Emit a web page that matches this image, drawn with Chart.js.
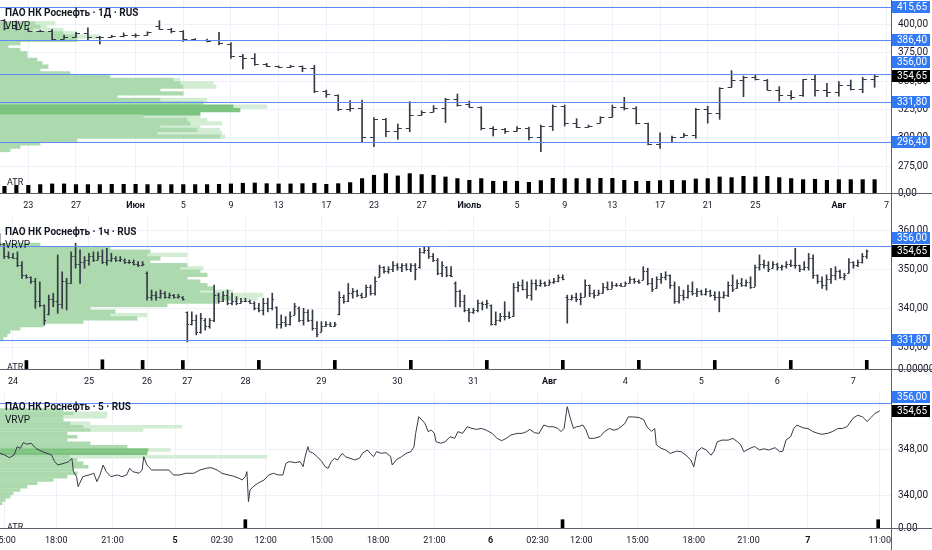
<!DOCTYPE html>
<html lang="ru">
<head>
<meta charset="utf-8">
<title>ПАО НК Роснефть</title>
<script src="https://cdn.jsdelivr.net/npm/chart.js@4.4.1/dist/chart.umd.min.js"></script>
<style>
  html, body { margin: 0; padding: 0; background: #fff; overflow: hidden; }
  .pane { position: absolute; left: 0; width: 932px; }
</style>
</head>
<body>
<div class="pane" style="top:0;height:215px"><canvas id="daily"></canvas></div>
<div class="pane" style="top:215px;height:176px"><canvas id="hourly"></canvas></div>
<div class="pane" style="top:391px;height:159px"><canvas id="fivemin"></canvas></div>
<script>
const lastPrice = 354.65;

// ---- 1Д (daily) ----
const dayTicks = [2, 6, 11, 15, 19, 23, 27, 31, 35, 39, 43, 47, 51, 55, 59, 63, 70, 74];
const dayTickLabels = ['23', '27', 'Июн', '5', '9', '13', '17', '23', '27', 'Июль', '5', '9', '13', '17', '21', '25', 'Авг', '7'];
const dayBoldTicks = [11, 39, 70];
const dayOpen = [404, 397, 396, 394.5, 394, 387, 389, 392, 388.6, 389, 389.8, 390.5, 391, 398.5, 396, 394, 386.9, 386.3, 386, 383,
  372, 370, 365, 363, 362.8, 363, 361.3, 341, 337.5, 325.5, 326, 301, 316.4, 306.4, 308.5, 320.5, 323, 326, 334, 330,
  327.5, 309, 307.5, 306, 308.5, 300.5, 310.5, 328, 312.9, 310, 313.5, 318.2, 327.5, 326, 313, 295, 296.5, 301, 302.5, 325.5,
  321.7, 345, 351, 353.4, 351, 342.5, 337.8, 338, 351.6, 342, 340.7, 346.6, 342.8, 352.2];
const dayHigh = [404.5, 403, 397, 395, 395.7, 390.5, 393, 397, 389.5, 390.5, 392.5, 391.8, 393.5, 403.3, 396.5, 394.5, 387.5, 387, 393, 384,
  373.6, 374.3, 365.7, 363.4, 364, 363.4, 364, 342.2, 338, 333, 333.4, 318, 317.3, 312.3, 332, 324, 328.5, 334.9, 338.7, 332.5,
  327.5, 309.9, 308.5, 309.9, 309.5, 311.4, 329, 329, 317, 311.4, 318.7, 329, 335.8, 327.5, 313, 304.6, 301.7, 304, 326, 328,
  344.3, 359.3, 354.6, 355.4, 351.6, 345.2, 341.6, 351.6, 355.4, 348.1, 349.6, 351, 353.4, 355.5];
const dayLow = [395.1, 395, 393.5, 393.5, 385.7, 386.9, 388.6, 386, 382.7, 388.5, 389, 388.6, 390.5, 395.5, 392.5, 385, 385.7, 384.5, 382, 370,
  360.7, 364, 362.8, 361.9, 362, 358.4, 339.9, 335.8, 324, 323.5, 296.7, 292.3, 301.1, 298.8, 305.5, 320, 323, 313.5, 328, 326.9,
  307, 301.7, 304, 306, 298.2, 288, 306.5, 310.5, 309, 309.5, 313.5, 318.2, 324.6, 312.3, 293.8, 290.8, 296.5, 301, 299.6, 313,
  316.4, 344.6, 336.3, 351, 342.2, 332.5, 334, 336.5, 336.9, 336.3, 336.9, 342.2, 339.9, 344.6];
const dayClose = [397, 396, 394.5, 394, 387, 389, 392, 388.6, 388.9, 389.8, 390.5, 390.5, 393, 396, 394, 386.9, 386.3, 385.7, 383.3, 372.2,
  370, 365.1, 363.4, 362.8, 363, 361.3, 341, 338.4, 325.5, 326, 301.1, 316.4, 306.4, 308.5, 320.2, 323, 326, 334, 329, 327.5,
  309, 307.5, 306, 308.5, 300.5, 310.5, 328, 312.9, 310, 310.4, 318.2, 327.5, 326, 313, 295, 296, 301.1, 302.5, 325.2, 321.7,
  343.7, 351, 353.4, 351.6, 342.5, 337.8, 336.3, 351.6, 342.2, 340.7, 346.6, 342.8, 352.2, 354.65];
const dayAtr = [7.0, 8.0, 8.0, 8.8, 9.5, 9.5, 8.8, 8.8, 8.8, 9.1, 9.1, 9.1, 8.8, 8.8, 8.8, 8.8, 8.8, 8.8, 9.1, 9.5,
  10.2, 10.5, 9.8, 9.5, 9.5, 9.8, 10.2, 9.1, 9.8, 10.9, 15.1, 18.6, 20.3, 17.9, 20.3, 19.3, 18.6, 16.8, 15.1, 13.3,
  15.1, 12.3, 12.3, 12.3, 11.2, 13.0, 15.4, 15.1, 15.1, 15.1, 15.4, 15.4, 13.3, 12.3, 12.3, 13.0, 13.3, 13.0, 14.7, 15.1,
  16.8, 16.1, 17.5, 16.8, 17.5, 16.1, 15.1, 14.0, 14.4, 13.3, 14.0, 14.0, 14.0, 14.0];
const dayLevels = [415.65, 386.40, 356.00, 331.80, 296.40];
const dayPriceTicks = [275, 300, 325, 350, 375, 400];
const dayVpPrice = [401.0, 398.0, 395.1, 392.2, 389.2, 386.3, 383.4, 380.4, 377.5, 374.6, 371.6, 368.7, 365.7, 362.8, 359.9, 356.9,
  354.0, 351.1, 348.1, 345.2, 342.3, 339.3, 336.4, 333.5, 330.5, 327.6, 324.6, 321.7, 318.7, 315.8, 312.9, 309.9,
  307.0, 304.1, 301.1, 298.2, 295.2, 292.3, 289.4];
const dayVpMain = [35, 40, 33, 63, 77, 77, 20, 8, 20, 27, 27, 37, 42, 48, 40, 70, 110, 173, 180, 183, 160, 183, 117, 160,
  203, 233, 240, 200, 143, 187, 190, 160, 197, 157, 220, 77, 40, 20, 10];
const dayVpExtra = [20, 7, 30, 14, 23, 0, 0, 0, 0, 0, 0, 0, 0, 0, 0, 0, 0, 7, 33, 33, 0, 0, 0, 47,
  0, 34, 0, 0, 57, 20, 32, 40, 23, 65, 5, 0, 0, 0, 0];

// ---- 1ч (hourly) ----
const hourTicks = [3, 20, 33, 42, 55, 72, 89, 106, 123, 140, 157, 174, 191];
const hourTickLabels = ['24', '25', '26', '27', '28', '29', '30', '31', 'Авг', '4', '5', '6', '7'];
const hourBoldTicks = [123];
const hourOpen = [357, 356.5, 353.5, 353.2, 353, 351, 348.5, 348, 347, 342, 340.8, 338.5, 342.5,
  342, 341, 347, 346.5, 353.5, 351.5, 352, 352.5, 353.5, 352.5,
  353.5, 352, 352.5, 353, 352.5, 352.5, 352, 351.8, 351.5, 351,
  349, 343, 343.5, 343, 344, 343, 343.5, 343, 343, 339,
  336, 337, 334, 337, 335.5, 337, 343.5, 342, 343.5, 341.5,
  342, 341.5, 342, 342, 341.5, 340, 339.5, 341.5, 340, 340.4,
  336, 336.5, 336, 338.3, 340, 337, 339, 337, 335, 334,
  335.5, 336, 335.5, 338.5, 343, 342, 344, 344.5, 343.5, 343,
  345.5, 344, 348.1, 350.5, 349.5, 350, 351, 350.5, 351, 350,
  351, 350.5, 354.5, 355, 353.5, 352.5, 349, 350.5, 348.5, 346.5,
  344.5, 342, 339.5, 339, 339.5, 341.5, 341, 340.9, 336, 337,
  338, 338, 338, 345.5, 346, 345, 343.5, 346.5, 346, 346.5,
  346, 346.8, 347, 348, 343, 342.5, 343, 342.5, 343, 346,
  344, 343.5, 344, 345.5, 345, 346, 346, 345.8, 346.5, 347.5,
  347, 347.3, 349.5, 346.5, 345.1, 347.5, 348, 348.5, 346, 342,
  343.5, 343, 344.5, 344, 344.5, 343.8, 344.5, 343.5, 342.8, 343,
  343.5, 346, 345.1, 346.5, 346, 346.8, 345.6, 350.5, 351.5, 351,
  350.3, 351.5, 350.5, 350.8, 351.5, 351, 351, 350, 350.5, 353,
  348.5, 347, 346, 347.5, 348.5, 349.5, 348, 349, 352, 351,
  351.8, 353.5];
const hourHigh = [359.2, 356.7, 354.5, 354.1, 354.5, 352, 348.6, 348.1, 347.7, 346.8, 340.9, 343.4, 343.9,
  353.7, 349.4, 347.7, 354.5, 356.7, 355, 353.3, 354.1, 354.5, 354.5,
  355, 355.4, 354.1, 353.3, 353.3, 352.7, 352.4, 352.4, 352, 352,
  349.4, 344.7, 344.3, 344.7, 344.3, 343.9, 343.6, 343.6, 343, 339.1,
  339.1, 338.3, 338.7, 337.4, 337.4, 346, 343.9, 344.3, 344.7, 343.9,
  343, 342.6, 342.6, 342.1, 341.7, 341.3, 342.6, 342.6, 343.9, 340.4,
  338.3, 337.9, 339.1, 341.3, 340.4, 340, 339.6, 339.6, 336.6, 336.6,
  336.6, 336.4, 336.4, 344.3, 343.4, 346.4, 345.1, 344.7, 343.9, 346,
  346, 348.1, 351.1, 350.7, 350.7, 352, 351.5, 351.5, 351.5, 351.5,
  351.5, 355.4, 355.8, 355.8, 354.1, 352.8, 352, 350.7, 350.7, 346.8,
  344.7, 343.4, 340, 340, 342.1, 341.7, 342.1, 340.9, 339.1, 338.7,
  341.7, 339.1, 346.4, 346.8, 347.3, 346.8, 347.3, 347.3, 347.3, 346.8,
  347.3, 347.7, 348.6, 348.6, 343.4, 343.4, 343.9, 343.9, 347.3, 346,
  344.7, 344.7, 346.4, 346.8, 346.8, 346.4, 346.4, 346.8, 348.1, 347.7,
  347.3, 350.7, 350.3, 347.7, 348.1, 349, 349.4, 348.6, 346.8, 345.6,
  344.7, 346, 346.8, 345.1, 344.7, 345.1, 344.7, 344.3, 344.3, 344.3,
  346.8, 348.6, 347.3, 347.7, 347.3, 348.1, 351.1, 353.7, 352.4, 352,
  352, 351.6, 351.1, 352, 352.4, 355.4, 351.1, 352, 354.1, 353.7,
  348.6, 348.1, 348.6, 350.3, 350.7, 349.8, 349, 352.8, 352, 352.4,
  354.1, 355];
const hourLow = [356, 352.8, 352.8, 352.8, 350.7, 347.7, 347.7, 346.4, 340, 340.4, 335.7, 338.3, 340.4,
  338.7, 340, 339.6, 346.4, 350.3, 346.4, 350.3, 351.1, 352, 352.4,
  351.5, 351.1, 352, 352, 352, 351.5, 351.5, 351.1, 350.7, 350.9,
  342.1, 342.1, 342.1, 342.6, 342.6, 342.6, 342.6, 342.6, 342.1, 331.4,
  335.7, 333.2, 333.6, 334.4, 334.9, 336.6, 341.3, 341.7, 340.9, 340.9,
  340.9, 341.3, 341.7, 341.3, 339.6, 339.1, 338.3, 339.1, 339.6, 334.9,
  334.9, 335.3, 335.7, 338.3, 336.6, 335.7, 336.6, 334.4, 332.7, 334,
  335.3, 335.3, 335.3, 338.3, 341.3, 341.7, 342.6, 343, 342.6, 343,
  343.4, 343.4, 348.1, 349, 349, 349.4, 349.8, 349.4, 349.8, 349.4,
  347.3, 350.3, 354.1, 352.8, 352, 348.6, 348.1, 348.1, 348.1, 340.4,
  340.4, 339.1, 336.6, 338.7, 339.1, 339.6, 340, 335.7, 335.7, 336.6,
  337, 337.4, 337.9, 344.3, 344.7, 342.6, 342.1, 344.7, 345.6, 345.6,
  346, 346.4, 346.8, 347.3, 336.2, 342.1, 341.7, 340.9, 343, 343,
  342.6, 343.4, 343.9, 344.7, 345.1, 345.6, 345.6, 345.8, 346.4, 346.4,
  346.4, 347.3, 346, 344.3, 345.1, 346.4, 347.3, 345.1, 341.3, 341.3,
  342.1, 342.6, 343.4, 343, 343.4, 343.4, 343, 342.1, 339.1, 342.6,
  343, 344.3, 345.1, 345.6, 345.6, 345.1, 345.6, 349.8, 350.3, 349.4,
  350.3, 349.8, 349.8, 350.3, 350.7, 350.3, 349.4, 349.8, 349.8, 347.7,
  346.4, 345.1, 344.7, 346.4, 347.3, 347.7, 347.3, 349, 350.3, 350.7,
  351.6, 352.8];
const hourClose = [356.5, 353.5, 353.2, 353, 351, 348.5, 348, 347, 342, 340.8, 337, 342.5, 342,
  341, 347, 346.5, 353.5, 351.5, 352, 352.5, 353.5, 352.5, 353.5,
  352, 352.5, 353, 352.5, 352.7, 352, 351.8, 351.5, 351, 351.5,
  343, 343.5, 343, 344, 343, 343.5, 343, 343.2, 342.5, 336,
  337, 334, 337.5, 335.5, 337, 343.5, 342, 343.5, 341.5, 342,
  341.5, 342, 342, 341.5, 340, 339.5, 341.5, 340, 342.5, 336,
  336.5, 336, 338, 340.5, 337, 339, 337, 335, 333.5, 335.5,
  336, 335.5, 336, 343, 342, 344, 344.5, 343.5, 343, 345.5,
  344, 347, 350.5, 349.5, 350, 351, 350.5, 351, 350, 351,
  350, 354.5, 355, 353.5, 352.5, 349, 351, 348.5, 348.3, 344.5,
  342, 339.5, 339, 339.5, 341.5, 341, 341.5, 336, 337, 338,
  338, 337.8, 345.5, 346, 345, 343.5, 346.5, 346, 346.5, 346,
  346.8, 347, 348, 347.5, 342.5, 343, 342.5, 343, 346, 344,
  343.5, 344, 345.5, 345, 346, 346, 345.8, 346.5, 347.5, 347,
  346.8, 349.5, 346.5, 345, 347.5, 348, 348.5, 346, 342, 343.5,
  343, 344.5, 344, 344.5, 343.8, 344.5, 343.5, 342.8, 343, 343.5,
  346, 345, 346.5, 346, 346.8, 345.5, 350.5, 351.5, 351, 350,
  351.5, 350.5, 350.8, 351.5, 351, 351, 350, 350.5, 353, 348.5,
  347, 346, 347.5, 348.5, 349.5, 348, 348.5, 352, 351, 351.8,
  353.5, 354.65];
const hourAtrBar = [6, 23, 32, 41, 58, 75, 92, 109, 126, 143, 160, 177, 194];
const hourAtr = [8.5, 9.2, 8.6, 8.5, 8.6, 8.6, 8.7, 8.6, 8.7, 8.7, 8.6, 8.6, 8.7];
const hourLevels = [356.00, 331.80];
const hourPriceTicks = [330, 340, 350, 360];
const hourVpPrice = [356.26, 355.40, 354.55, 353.69, 352.83, 351.98, 351.12, 350.27, 349.41, 348.56, 347.70, 346.85,
  345.99, 345.14, 344.28, 343.43, 342.57, 341.71, 340.86, 340.00, 339.15, 338.29, 337.44, 336.58, 335.73,
  334.87, 334.02, 333.16, 332.30];
const hourVpMain = [40, 110, 150, 147, 160, 150, 187, 180, 200, 207, 187, 200, 207, 213, 200, 220, 230, 217, 167, 90,
  115, 110, 137, 83, 43, 20, 10, 7, 3];
const hourVpExtra = [0, 0, 0, 40, 0, 0, 0, 23, 0, 0, 0, 0, 0, 0, 33, 43, 27, 0, 0, 0, 0, 37, 0, 0, 0, 0, 0, 0, 0];

// ---- 5 (five minutes) ----
const m5Ticks = [3, 36, 72, 112, 142, 170, 206, 242, 278, 314, 344, 372, 408, 444, 479, 517, 563];
const m5TickLabels = ['15:00', '18:00', '21:00', '5', '02:30', '12:00', '15:00', '18:00', '21:00', '6', '02:30', '12:00', '15:00', '18:00', '21:00', '7', '11:00'];
const m5BoldTicks = [112, 314, 517];
const m5Bar = [0, 3, 6, 9, 11, 13, 15, 17, 20, 23,
  27, 30, 33, 35, 37, 41, 44, 46, 47, 49,
  50, 51, 53, 57, 60, 62, 64, 66, 68, 71,
  75, 78, 81, 83, 85, 89, 91, 92, 94, 97,
  100, 105, 108, 111, 115, 119, 124, 128, 132, 135,
  139, 142, 146, 149, 153, 155, 157, 158, 159, 160,
  162, 165, 169, 172, 175, 178, 181, 183, 185,
  189, 192, 194, 195, 197, 198, 200, 203, 206, 208,
  210, 212, 214, 216, 219, 221, 224, 227, 230, 232,
  235, 237, 239, 241, 244, 247, 250, 251, 254, 257,
  260, 263, 265, 266, 268, 270, 272, 274, 276, 278,
  279, 282, 285, 288, 291, 293, 296, 299, 302, 305,
  308, 311, 315, 318, 321, 324, 327, 331, 334, 337,
  339, 342, 345, 348, 351, 354, 357, 359, 361, 363,
  365, 367, 369, 371, 373, 375, 377,
  380, 384, 387, 390, 393,
  396, 400, 402, 405, 409, 412, 414, 417, 419, 420,
  423, 426, 429, 433, 436, 439, 442, 444, 446, 449,
  452, 455, 457, 459, 462, 466, 469, 472, 474, 476,
  480, 483, 486, 489, 492, 496, 499, 501, 503, 506,
  508, 510, 514, 517, 520, 523, 526, 530, 533, 536,
  539, 542, 546, 549, 552, 555, 557, 560, 563];
const m5Close = [347.33, 347.03, 346.57, 347.03, 348.47, 348.18, 349.2, 348.9, 349.05, 348.18,
  347.61, 347.33, 347.03, 345.89, 345.31, 345.6, 345.89, 346.46, 344.16, 343.3,
  341.57, 342.16, 343.3, 343.59, 343.88, 342.45, 343.59, 345.31, 344.16, 343.3,
  343.59, 343.3, 343.59, 344.74, 344.16, 343.88, 344.45, 346.74, 345.31, 344.45,
  344.45, 344.45, 344.45, 343.59, 343.59, 343.88, 343.88, 344.45, 344.74, 344.85,
  344.45, 343.88, 343.59, 343.42, 343.02, 342.72, 343.3, 344.16, 338.99, 341.0,
  341.57, 342.16, 342.72, 343.59, 343.88, 343.59, 343.59, 345.6, 345.89,
  345.71, 345.89, 345.03, 346.46, 348.47, 347.61, 347.43, 346.74, 345.89, 345.03,
  344.74, 345.89, 346.46, 346.17, 347.33, 346.74, 346.46, 346.17, 346.46, 347.33,
  347.90, 347.33, 346.74, 347.61, 347.33, 347.43, 346.74, 345.31, 346.29, 346.74,
  347.33, 347.61, 348.47, 350.76, 353.64, 353.07, 352.49, 351.06, 351.34, 350.76,
  349.33, 349.05, 349.33, 350.19, 349.91, 351.06, 350.76, 351.91, 351.62, 351.45,
  351.62, 351.34, 350.76, 349.91, 349.5, 349.91, 350.48, 350.76, 350.76, 351.06,
  351.45, 350.88, 350.76, 352.21, 351.91, 351.91, 351.62, 351.06, 351.62, 355.37,
  353.36, 351.62, 351.91, 352.0, 352.21, 351.34, 349.91,
  349.9, 350.2, 351.1, 351.6, 351.3,
  351.6, 352.5, 353.6, 353.6, 353.5, 353.1, 351.9, 351.1, 351.6, 348.8,
  348.2, 347.9, 347.3, 347.7, 347.6, 347.0, 346.2, 345.0, 347.6, 348.3,
  347.9, 347.0, 347.7, 349.3, 349.6, 349.6, 349.9, 349.3, 348.8, 347.6,
  348.2, 348.5, 347.9, 348.1, 347.9, 348.3, 347.6, 347.7, 349.6, 350.2,
  351.6, 352.2, 351.7, 351.6, 351.1, 350.8, 350.6, 350.8, 351.1, 351.6,
  351.6, 351.9, 353.4, 353.9, 353.6, 352.8, 353.4, 354.2, 354.65];
const m5AtrBar = [157, 360, 562];
const m5Atr = [8.3, 8.3, 8.3];
const m5Levels = [356.00];
const m5PriceTicks = [340, 348];
const m5VpPrice = [354.79, 354.22, 353.64, 353.07, 352.49, 351.91, 351.34, 350.76, 350.19, 349.62, 349.05, 348.47,
  347.90, 347.33, 346.74, 346.17, 345.60, 345.02, 344.45, 343.88, 343.30, 342.72, 342.16, 341.57, 341.00,
  340.43, 339.85, 339.28, 338.71];
const m5VpMain = [63, 73, 63, 63, 70, 83, 90, 67, 77, 67, 90, 127, 148, 147, 70, 77, 83, 88, 73, 77, 67, 53, 37, 27, 20,
  13, 10, 5, 2];
const m5VpExtra = [0, 34, 44, 0, 20, 99, 53, 0, 0, 0, 0, 0, 22, 0, 197, 0, 0, 0, 0, 0, 0, 0, 0, 0, 0, 0, 0, 0, 0];

// ---- look ----
const TEXT = '#131722';
const BAR = '#363a45';
const GRID = '#eef1f7';
const AXIS = '#5d606b';
const LEVEL = '#5b8cf5';
const LEVEL_BOX = '#3179f5';
const LAST_BOX = '#000000';
const VP_MAIN = '#acdaae';
const VP_PALE = '#d3ecd4';
const VP_DARK = '#7cc47f';

Chart.defaults.font.family = 'Roboto';
Chart.defaults.color = TEXT;

function fmt(v) {
  return v.toFixed(2).replace('.', ',');
}

function panelDecor(p) {
  return {
    id: 'panelDecor',
    beforeDatasetsDraw(chart) {
      const { ctx, chartArea: a } = chart;
      const atr = chart.scales.yAtr;
      ctx.save();
      ctx.beginPath();
      ctx.rect(a.left, a.top, a.width, a.height);
      ctx.clip();
      ctx.fillStyle = TEXT;
      ctx.font = '9px Roboto';
      ctx.textBaseline = 'middle';
      ctx.fillText('ATR', 7, atr.top + 11);
      ctx.restore();
    },
    afterDatasetsDraw(chart) {
      const { ctx, chartArea: a } = chart;
      const xs = chart.scales.x, ys = chart.scales.y;
      ctx.save();
      ctx.beginPath();
      ctx.rect(a.left, ys.top, a.width, ys.bottom - ys.top);
      ctx.clip();
      // open / close ticks of the OHLC bars
      if (p.open) {
        ctx.strokeStyle = BAR;
        ctx.lineWidth = 1;
        ctx.beginPath();
        p.open.forEach((o, i) => {
          const x = xs.getPixelForValue(i);
          const yo = Math.round(ys.getPixelForValue(o)) + 0.5;
          const yc = Math.round(ys.getPixelForValue(p.close[i])) + 0.5;
          ctx.moveTo(x - p.tick, yo); ctx.lineTo(x, yo);
          ctx.moveTo(x, yc); ctx.lineTo(x + p.tick, yc);
        });
        ctx.stroke();
      }
      // horizontal levels
      ctx.strokeStyle = LEVEL;
      ctx.lineWidth = 1;
      ctx.beginPath();
      p.levels.forEach(v => {
        const y = Math.round(ys.getPixelForValue(v)) + 0.5;
        ctx.moveTo(a.left, y); ctx.lineTo(a.right, y);
      });
      ctx.stroke();
      ctx.restore();

      ctx.save();
      ctx.fillStyle = TEXT;
      ctx.textBaseline = 'middle';
      ctx.font = 'bold 10px Roboto';
      ctx.fillText(p.title, 5, p.titleY);
      ctx.font = '10px Roboto';
      ctx.fillText('VRVP', 5, p.titleY + 13);
      ctx.restore();
    },
    afterDraw(chart) {
      const { ctx, chartArea: a, width, height } = chart;
      const ys = chart.scales.y;
      const ax = Math.round(a.right) + 0.5, ay = Math.round(a.bottom) + 0.5;
      ctx.save();
      ctx.strokeStyle = AXIS;
      ctx.lineWidth = 1;
      ctx.beginPath();
      ctx.moveTo(ax, 0); ctx.lineTo(ax, height);
      ctx.moveTo(0, ay); ctx.lineTo(width, ay);
      ctx.stroke();

      // price marks on the scale, pushed apart when they collide
      const mark = (v, bg) => ({ v, bg, y: ys.getPixelForValue(v) });
      const placed = [mark(lastPrice, LAST_BOX)];
      p.levels.filter(v => v >= ys.min && v <= ys.max)
        .map(v => mark(v, LEVEL_BOX))
        .sort((m, n) => Math.abs(m.v - lastPrice) - Math.abs(n.v - lastPrice))
        .forEach(m => {
          placed.forEach(q => {
            if (Math.abs(m.y - q.y) < 13.5) m.y = m.v > q.v ? q.y - 13.5 : q.y + 13.5;
          });
          placed.push(m);
        });
      ctx.font = '10px Roboto';
      ctx.textBaseline = 'middle';
      placed.forEach(m => {
        ctx.fillStyle = m.bg;
        ctx.fillRect(a.right + 1, Math.round(m.y - 6), 38, 12);
        ctx.fillStyle = '#ffffff';
        ctx.fillText(fmt(m.v), a.right + 6, m.y + 0.5);
      });
      ctx.restore();
    }
  };
}

function buildPanel(id, p) {
  const datasets = [];
  if (p.high) {
    datasets.push({
      type: 'bar', xAxisID: 'x', yAxisID: 'y',
      data: p.high.map((h, i) => ({ x: i, y: [p.low[i], h] })),
      backgroundColor: BAR, barThickness: 1, grouped: false, order: 1
    });
  }
  if (p.lineX) {
    datasets.push({
      type: 'line', xAxisID: 'x', yAxisID: 'y',
      data: p.lineX.map((x, i) => ({ x, y: p.lineY[i] })),
      borderColor: BAR, borderWidth: 1, pointRadius: 0, tension: 0, order: 1
    });
  }
  datasets.push({
    type: 'bar', xAxisID: 'x', yAxisID: 'yAtr',
    data: p.atrX.map((x, i) => ({ x, y: p.atr[i] })),
    backgroundColor: '#000000', barThickness: p.atrW, grouped: false, order: 2
  });
  datasets.push({
    type: 'bar', indexAxis: 'y', xAxisID: 'xVol', yAxisID: 'y', stack: 'vp',
    data: p.vpPrice.map((v, i) => ({ x: p.vpMain[i], y: v })),
    backgroundColor: c => p.vpDark.includes(c.dataIndex) ? VP_DARK : VP_MAIN,
    barThickness: p.vpW, grouped: false, order: 5
  });
  datasets.push({
    type: 'bar', indexAxis: 'y', xAxisID: 'xVol', yAxisID: 'y', stack: 'vp',
    data: p.vpPrice.map((v, i) => ({ x: p.vpExtra[i], y: v })),
    backgroundColor: VP_PALE, barThickness: p.vpW, grouped: false, order: 5
  });

  const yFit = ax => { ax.width = 41; ax.paddingTop = 0; ax.paddingBottom = 0; };

  return new Chart(document.getElementById(id), {
    type: 'bar',
    data: { datasets },
    options: {
      responsive: true,
      maintainAspectRatio: false,
      animation: false,
      events: [],
      layout: { padding: 0 },
      plugins: { legend: { display: false }, tooltip: { enabled: false } },
      scales: {
        x: {
          type: 'linear', position: 'bottom', min: p.xMin, max: p.xMax, offset: false,
          afterBuildTicks: ax => { ax.ticks = p.xTicks.map(v => ({ value: v })); },
          afterFit: ax => { ax.height = 22; ax.paddingLeft = 0; ax.paddingRight = 0; },
          ticks: {
            autoSkip: false, maxRotation: 0, minRotation: 0, padding: 7, color: TEXT,
            font: c => ({ family: 'Roboto', size: 9, weight: (c.tick && p.xBold.includes(c.tick.value)) ? 'bold' : 'normal' }),
            callback: v => p.xLabels[p.xTicks.indexOf(v)]
          },
          grid: { color: GRID, drawTicks: false, offset: false },
          border: { display: false }
        },
        xVol: { type: 'linear', display: false, min: 0, max: 891, stacked: true, offset: false, grid: { offset: false } },
        y: {
          type: 'linear', position: 'right', stack: 'pane', stackWeight: p.priceH,
          min: p.yMin, max: p.yMax, offset: false,
          afterBuildTicks: ax => { ax.ticks = p.yTicks.map(v => ({ value: v })); },
          afterFit: yFit,
          ticks: { padding: 7, color: TEXT, font: { family: 'Roboto', size: 10 }, callback: v => fmt(v) },
          grid: { color: GRID, drawTicks: false, offset: false },
          border: { display: false }
        },
        yAtr: {
          type: 'linear', position: 'right', stack: 'pane', stackWeight: p.atrH,
          min: 0, max: p.atrMax, offset: false,
          afterBuildTicks: ax => { ax.ticks = [{ value: 0 }]; },
          afterFit: yFit,
          ticks: { padding: 7, color: TEXT, font: { family: 'Roboto', size: 10 }, callback: () => p.atrLabel },
          grid: { display: false, drawTicks: false, offset: false },
          border: { display: false }
        }
      }
    },
    plugins: [panelDecor(p)]
  });
}

buildPanel('daily', {
  title: 'ПАО НК Роснефть · 1Д · RUS', titleY: 13,
  open: dayOpen, high: dayHigh, low: dayLow, close: dayClose, tick: 4,
  atrX: dayAtr.map((_, i) => i), atr: dayAtr, atrW: 3.5, atrMax: 22, atrLabel: '0,00',
  levels: dayLevels, yTicks: dayPriceTicks, yMin: 270, yMax: 421.5, priceH: 172, atrH: 21,
  xTicks: dayTicks, xLabels: dayTickLabels, xBold: dayBoldTicks, xMin: -0.374, xMax: 74.375,
  vpPrice: dayVpPrice, vpMain: dayVpMain, vpExtra: dayVpExtra, vpDark: [25, 26, 27], vpW: 3.6
});

buildPanel('hourly', {
  title: 'ПАО НК Роснефть · 1ч · RUS', titleY: 17,
  open: hourOpen, high: hourHigh, low: hourLow, close: hourClose, tick: 1.8,
  atrX: hourAtrBar, atr: hourAtr, atrW: 3, atrMax: 12, atrLabel: '0.00000',
  levels: hourLevels, yTicks: hourPriceTicks, yMin: 327.52, yMax: 363.95, priceH: 142, atrH: 12,
  xTicks: hourTicks, xLabels: hourTickLabels, xBold: hourBoldTicks, xMin: 0.092, xMax: 199.42,
  vpPrice: hourVpPrice, vpMain: hourVpMain, vpExtra: hourVpExtra, vpDark: [], vpW: 3.6
});

buildPanel('fivemin', {
  title: 'ПАО НК Роснефть · 5 · RUS', titleY: 16,
  lineX: m5Bar, lineY: m5Close,
  atrX: m5AtrBar, atr: m5Atr, atrW: 3, atrMax: 11, atrLabel: '0.00',
  levels: m5Levels, yTicks: m5PriceTicks, yMin: 336.34, yMax: 358.07, priceH: 126, atrH: 11,
  xTicks: m5Ticks, xLabels: m5TickLabels, xBold: m5BoldTicks, xMin: 0, xMax: 570.2,
  vpPrice: m5VpPrice, vpMain: m5VpMain, vpExtra: m5VpExtra, vpDark: [12, 13], vpW: 2.9
});
</script>
</body>
</html>
